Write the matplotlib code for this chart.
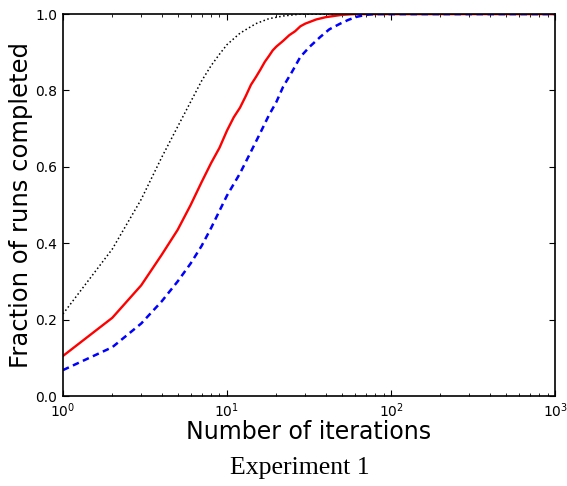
import matplotlib
matplotlib.use("Agg")
import matplotlib.pyplot as plt

# 每条曲线：迭代次数 -> 已完成运行的比例
red_x = [1, 2, 3, 4, 5, 6, 7, 8, 9, 10, 11, 12, 13, 14, 15, 16, 17, 18, 19, 20,
         22, 24, 26, 28, 30, 35, 40, 50, 60, 1000]
red_y = [0.105, 0.205, 0.29, 0.37, 0.435, 0.50, 0.56, 0.61, 0.65, 0.695, 0.73,
         0.755, 0.785, 0.815, 0.835, 0.855, 0.875, 0.89, 0.905, 0.915,
         0.93, 0.945, 0.955, 0.968, 0.975, 0.986, 0.992, 0.998, 1.0, 1.0]

blue_x = [1, 2, 3, 4, 5, 6, 7, 8, 9, 10, 12, 14, 16, 18, 20, 22, 25, 28, 32,
          37, 42, 49, 55, 62, 70, 80, 1000]
blue_y = [0.068, 0.128, 0.19, 0.248, 0.30, 0.347, 0.393, 0.44, 0.485, 0.525,
          0.583, 0.64, 0.69, 0.735, 0.77, 0.81, 0.85, 0.888, 0.915,
          0.94, 0.96, 0.975, 0.985, 0.993, 0.998, 1.0, 1.0]

black_x = [1, 2, 3, 4, 5, 6, 7, 8, 9, 10, 12, 15, 18, 22, 28, 1000]
black_y = [0.215, 0.385, 0.515, 0.625, 0.705, 0.77, 0.825, 0.865, 0.895, 0.92,
           0.95, 0.975, 0.988, 0.995, 1.0, 1.0]

fig = plt.figure(figsize=(5.67, 4.86), dpi=100)
ax = fig.add_axes([0.111, 0.185, 0.868, 0.786])

ax.plot(black_x, black_y, color='black', linestyle=':', linewidth=1.1)
ax.plot(red_x, red_y, color='#ff0000', linestyle='-', linewidth=1.7)
ax.plot(blue_x, blue_y, color='#0000ff', linestyle='--', linewidth=1.8, dashes=(2.6, 1.8))

ax.set_xscale('log')
ax.set_xlim(1, 1000)
ax.set_ylim(0, 1)
ax.set_yticks([0.0, 0.2, 0.4, 0.6, 0.8, 1.0])

ax.tick_params(which='both', direction='in', top=True, right=True, labelsize=10, pad=4)
ax.tick_params(which='major', length=4)
ax.tick_params(which='minor', length=2)
for s in ax.spines.values():
    s.set_linewidth(1.2)

ax.set_xlabel("Number of iterations", fontsize=17, labelpad=0)
ax.set_ylabel("Fraction of runs completed", fontsize=17.5, labelpad=2)

fig.text(0.529, 0.037, "Experiment 1", ha='center', va='center',
         family='Liberation Serif', fontsize=18.5)

fig.savefig("out.png", dpi=100)
